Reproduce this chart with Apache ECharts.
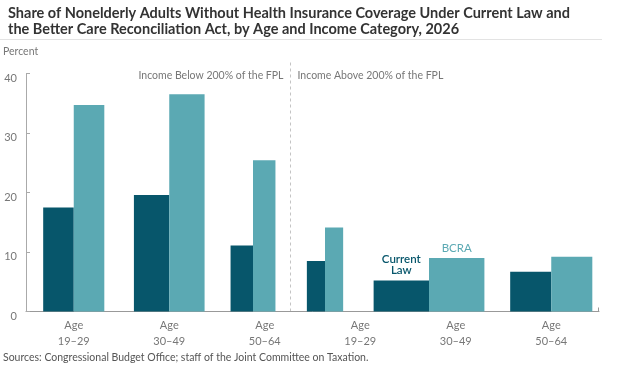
<!DOCTYPE html>
<html>
<head>
<meta charset="utf-8">
<script src="https://cdn.jsdelivr.net/npm/echarts@6/dist/echarts.min.js"></script>
<style>
html,body{margin:0;padding:0;background:#fff;}
#chart{width:620px;height:370px;}
</style>
</head>
<body>
<div id="chart"></div>
<script>
// ---- data ----
const categories = ['Age\n19–29', 'Age\n30–49', 'Age\n50–64', 'Age\n19–29', 'Age\n30–49', 'Age\n50–64'];
const currentLaw = [17.5, 19.6, 11.1, 8.5, 5.2, 6.7];
const bcra = [34.7, 36.5, 25.4, 14.1, 9.0, 9.2];
const yTicks = [0, 10, 20, 30, 40];
const panelLabels = ['Income Below 200% of the FPL', 'Income Above 200% of the FPL'];
const seriesNames = ['Current Law', 'BCRA'];
const titleText = 'Share of Nonelderly Adults Without Health Insurance Coverage Under Current Law and\nthe Better Care Reconciliation Act, by Age and Income Category, 2026';
const sourceText = 'Sources: Congressional Budget Office; staff of the Joint Committee on Taxation.';

// ---- layout / styling (in category-band units) ----
const pairOffset = [0, 0, -0.123, -0.369, -0.28, 0];
const barW = [0.32, 0.37, 0.235, 0.19, 0.58, 0.43];
const dividerPos = 2.264;
const annotateIndex = 4;
const DARK = '#07566b';
const LIGHT = '#5ba9b3';
const FONT = 'Lato';

const chart = echarts.init(document.getElementById('chart'), null, {renderer: 'canvas'});

function makeRender(side) {
  return function (params, api) {
    const i = api.value(0);
    const v = api.value(1);
    const c = i + pairOffset[i];
    const w = barW[i];
    const x0 = side === 0 ? c - w : c;
    const x1 = side === 0 ? c : c + w;
    const pTop = api.coord([x0, v]);
    const pBot = api.coord([x1, 0]);
    const children = [{
      type: 'rect',
      shape: {x: pTop[0], y: pTop[1], width: pBot[0] - pTop[0], height: pBot[1] - pTop[1]},
      style: {fill: side === 0 ? DARK : LIGHT}
    }];
    if (i === annotateIndex) {
      children.push({
        type: 'text',
        style: {
          x: (pTop[0] + pBot[0]) / 2,
          y: pTop[1] - (side === 0 ? 5 : 4),
          text: side === 0 ? 'Current\nLaw' : 'BCRA',
          fill: side === 0 ? DARK : LIGHT,
          font: (side === 0 ? '600 ' : '400 ') + '11.5px ' + FONT,
          lineHeight: 11,
          align: 'center',
          verticalAlign: 'bottom'
        }
      });
    }
    return {type: 'group', children: children};
  };
}

const option = {
  animation: false,
  textStyle: {fontFamily: FONT},
  title: {
    text: titleText,
    left: 3, top: 1,
    textStyle: {fontFamily: FONT, fontSize: 14.5, fontWeight: 'bold', color: '#333', lineHeight: 15.5}
  },
  grid: {left: 26, right: 21, top: 73.5, bottom: 58.5, containLabel: false},
  xAxis: [
    {
      type: 'category', data: categories, position: 'bottom',
      axisLine: {show: true, onZero: false, lineStyle: {color: '#999', width: 1}},
      axisTick: {show: false},
      axisLabel: {color: '#777', fontSize: 11, fontFamily: FONT, lineHeight: 16, margin: 6, interval: 0}
    },
    {type: 'value', min: -0.5, max: 5.5, show: false}
  ],
  yAxis: {
    type: 'value', min: 0, max: 40, interval: 10,
    axisLine: {show: true, onZero: false, lineStyle: {color: '#aaa'}},
    axisTick: {show: true, inside: true, length: 4, lineStyle: {color: '#aaa'}},
    splitLine: {show: false},
    axisLabel: {
      color: '#777', fontSize: 11, fontFamily: FONT, margin: 9,
      formatter: function (v) { return yTicks.indexOf(v) >= 0 ? '{a|' + v + '}' : ''; },
      rich: {a: {color: '#777', fontSize: 11, fontFamily: FONT, padding: [9, 0, 0, 0]}}
    }
  },
  series: [
    {
      name: seriesNames[0], type: 'custom', xAxisIndex: 1, yAxisIndex: 0,
      data: currentLaw.map((v, i) => [i, v]),
      encode: {x: 0, y: 1},
      renderItem: makeRender(0)
    },
    {
      name: seriesNames[1], type: 'custom', xAxisIndex: 1, yAxisIndex: 0,
      data: bcra.map((v, i) => [i, v]),
      encode: {x: 0, y: 1},
      renderItem: makeRender(1)
    }
  ]
};
chart.setOption(option);

// decorations positioned from the axes
const divX = Math.round(chart.convertToPixel({xAxisIndex: 1}, dividerPos)) + 0.5;
const xEnd = Math.round(chart.convertToPixel({xAxisIndex: 1}, 5.5)) - 0.5;
const y0 = chart.convertToPixel({yAxisIndex: 0}, 0);
const y40 = chart.convertToPixel({yAxisIndex: 0}, 40);
chart.setOption({
  graphic: [
    {type: 'line', shape: {x1: 0, y1: 39.5, x2: 602, y2: 39.5}, style: {stroke: '#e3e3e3', lineWidth: 1}},
    {type: 'text', left: 3, top: 46, style: {text: 'Percent', font: '10.5px ' + FONT, fill: '#777'}},
    {type: 'text', left: 3, top: 352, style: {text: sourceText, font: '10.5px ' + FONT, fill: '#555'}},
    {type: 'line', silent: true, shape: {x1: xEnd, y1: y0 - 4, x2: xEnd, y2: y0}, style: {stroke: '#999', lineWidth: 1}},
    {type: 'line', silent: true, shape: {x1: divX, y1: y40 - 11, x2: divX, y2: y0},
      style: {stroke: '#c4c4c4', lineWidth: 1, lineDash: [3, 3]}},
    {type: 'text', x: divX - 7, y: y40 + 2, style: {text: panelLabels[0], font: '10.5px ' + FONT, fill: '#777', align: 'right', verticalAlign: 'middle'}},
    {type: 'text', x: divX + 7, y: y40 + 2, style: {text: panelLabels[1], font: '10.5px ' + FONT, fill: '#777', align: 'left', verticalAlign: 'middle'}}
  ]
});
</script>
</body>
</html>
